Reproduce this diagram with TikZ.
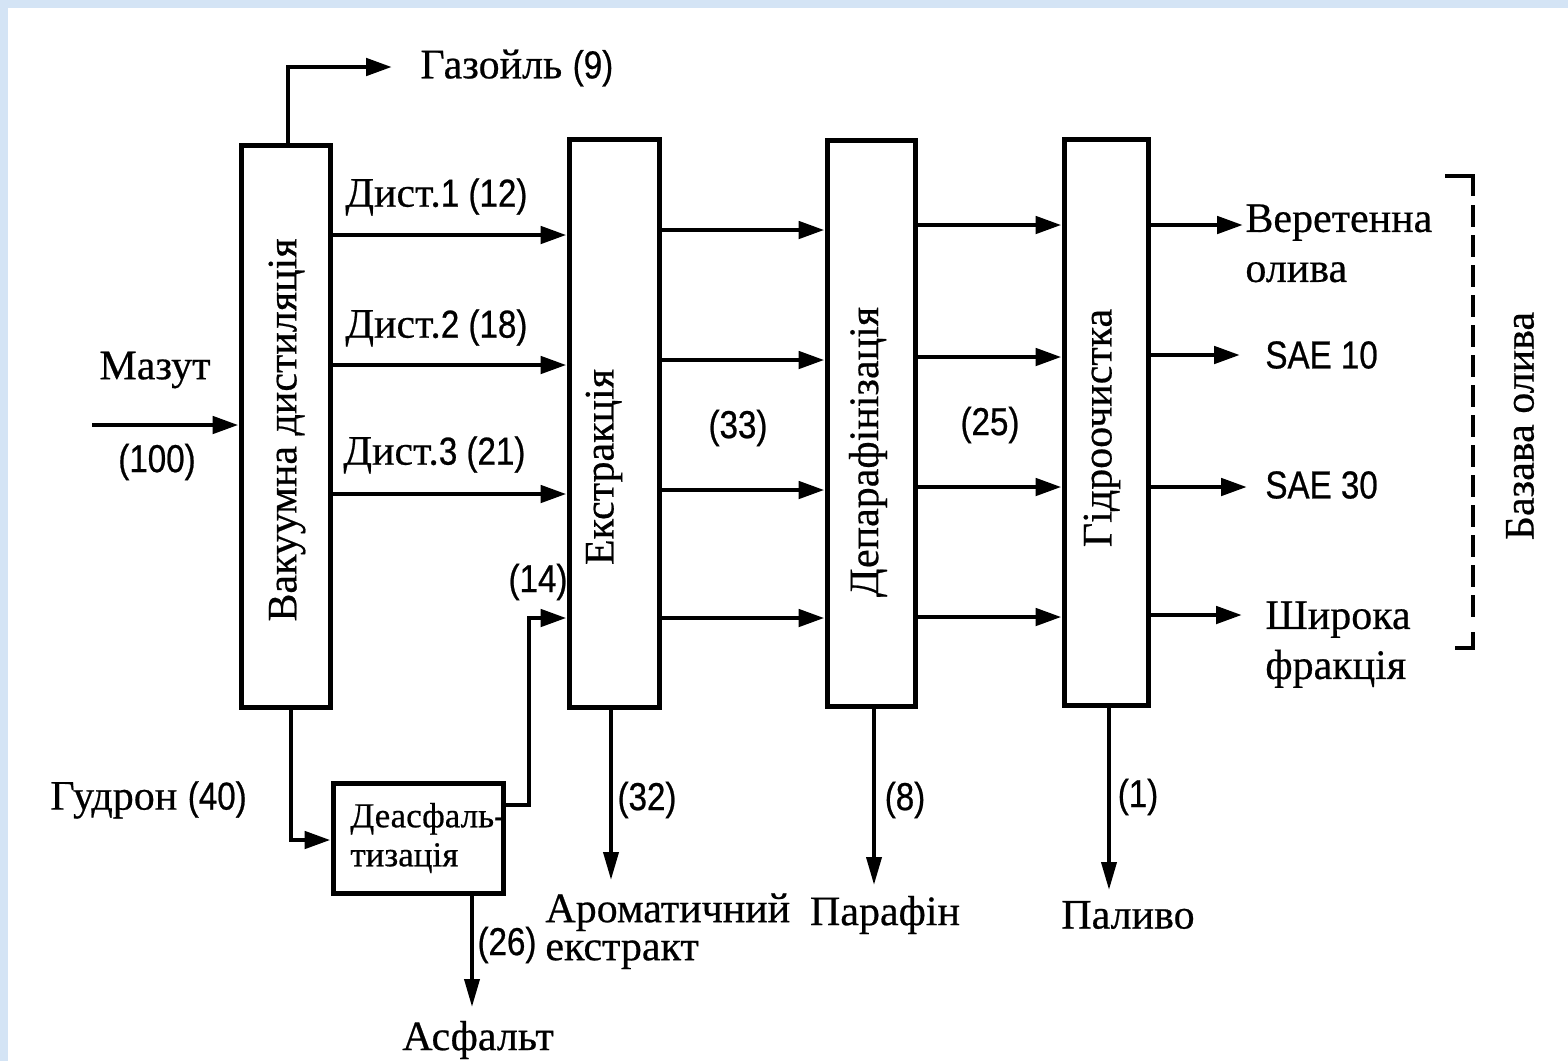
\documentclass[tikz,border=0pt]{standalone}
\usepackage{fontspec}
\setmainfont{Liberation Serif}[FakeBold=0.5]
\newfontfamily\numf[FakeStretch=0.85,FakeBold=0.6]{Liberation Sans}
\usetikzlibrary{arrows.meta}
\definecolor{frameblue}{RGB}{212,228,245}

\begin{document}
\begin{tikzpicture}[x=0.5pt,y=-0.5pt,
  unit/.style={draw, line width=2.5pt, inner sep=0pt},
  flow/.style={line width=2.4pt, -{Triangle[length=13pt,width=8.5pt]}},
  drop/.style={line width=1.9pt, -{Triangle[length=14pt,width=7.5pt]}},
  lbl/.style={font=\fontsize{21}{25}\selectfont, inner sep=0pt},
  num/.style={font=\numf\fontsize{19.5}{23}\selectfont, inner sep=0pt},
]
% page and frame
\fill[white] (0,0) rectangle (1568,1061);
\fill[frameblue] (0,0) rectangle (1568,8);
\fill[frameblue] (0,0) rectangle (8,1061);
\useasboundingbox (0,0) rectangle (1568,1061);

% process units
\node[unit, minimum width=44.5pt, minimum height=281pt] (V) at (285.5,426) {};
\node[unit, minimum width=45pt, minimum height=284pt] (E) at (614,423) {};
\node[unit, minimum width=44pt, minimum height=283pt] (D) at (871,423) {};
\node[unit, minimum width=42pt, minimum height=283pt] (H) at (1106,422) {};
\node[unit, minimum width=85pt, minimum height=55pt] (DA) at (418,838) {};

\node[lbl, rotate=90] (Vt) at (287,430) {Вакуумна дистиляція};
\node[lbl, rotate=90] (Et) at (604,467) {Екстракція};
\node[lbl, rotate=90] (Dt) at (868,452) {Депарафінізація};
\node[lbl, rotate=90] (Ht) at (1102,428) {Гідроочистка};
\node[lbl, font=\fontsize{17.5}{19.5}\selectfont, align=left, anchor=west] (DAt) at (350,838) {Деасфаль-\\тизація};

% feed
\coordinate (mzS) at (92,425);
\draw[flow] (mzS) -- (V.west |- mzS);
\node[lbl] (mz) at (155,370) {Мазут};
\node[num] (mzn) at (157,462) {(100)};

% gas oil
\coordinate (gasT) at (392,67);
\draw[flow] (V.north -| 288,0) |- (gasT);
\node[lbl, anchor=west] (gas) at (420,68) {Газойль {\numf\fontsize{19.5}{23}\selectfont (9)}};

% distillates
\draw[flow] (V.east |- 0,235) -- (E.west |- 0,235);
\draw[flow] (V.east |- 0,365) -- (E.west |- 0,365);
\draw[flow] (V.east |- 0,494) -- (E.west |- 0,494);
\node[lbl, anchor=west] (d1) at (345,197) {Дист.{\numf\fontsize{19.5}{23}\selectfont 1 (12)}};
\node[lbl, anchor=west] (d2) at (345,328) {Дист.{\numf\fontsize{19.5}{23}\selectfont 2 (18)}};
\node[lbl, anchor=west] (d3) at (343,455) {Дист.{\numf\fontsize{19.5}{23}\selectfont 3 (21)}};

% residue and deasphalting
\draw[flow] (V.south -| 291,0) |- (DA.west |- 0,840);
\node[lbl, anchor=west] (gd) at (50,800) {Гудрон {\numf\fontsize{19.5}{23}\selectfont (40)}};
\coordinate (c14) at (529,618);
\draw[flow] (DA.east |- 0,805) -| (c14) -- (E.west |- c14);
\node[num] (n14) at (538,582) {(14)};
\coordinate (asT) at (472,1007);
\draw[drop] (DA.south -| asT) -- (asT);
\node[num] (n26) at (507,945) {(26)};
\node[lbl] (asf) at (478,1040) {Асфальт};

% extraction to dewaxing
\draw[flow] (E.east |- 0,230) -- (D.west |- 0,230);
\draw[flow] (E.east |- 0,360) -- (D.west |- 0,360);
\draw[flow] (E.east |- 0,490) -- (D.west |- 0,490);
\draw[flow] (E.east |- 0,618) -- (D.west |- 0,618);
\node[num] (n33) at (738,428) {(33)};

% dewaxing to hydrotreating
\draw[flow] (D.east |- 0,225) -- (H.west |- 0,225);
\draw[flow] (D.east |- 0,357) -- (H.west |- 0,357);
\draw[flow] (D.east |- 0,487) -- (H.west |- 0,487);
\draw[flow] (D.east |- 0,617) -- (H.west |- 0,617);
\node[num] (n25) at (990,425) {(25)};

% side products
\coordinate (aroT) at (611,880);
\draw[drop] (E.south -| aroT) -- (aroT);
\node[num] (n32) at (647,800) {(32)};
\node[lbl, anchor=north west, align=left, font=\fontsize{21}{19}\selectfont] (aro) at (545,893) {Ароматичний\\екстракт};

\coordinate (parT) at (874,885);
\draw[drop] (D.south -| parT) -- (parT);
\node[num] (n8) at (905,800) {(8)};
\node[lbl] (par) at (885,915) {Парафін};

\coordinate (palT) at (1109,890);
\draw[drop] (H.south -| palT) -- (palT);
\node[num] (n1) at (1138,797) {(1)};
\node[lbl] (pal) at (1128,915) {Паливо};

% base oils
\coordinate (o1) at (1243,225);
\coordinate (o2) at (1240,355);
\coordinate (o3) at (1247,487);
\coordinate (o4) at (1242,615);
\draw[flow] (H.east |- o1) -- (o1);
\draw[flow] (H.east |- o2) -- (o2);
\draw[flow] (H.east |- o3) -- (o3);
\draw[flow] (H.east |- o4) -- (o4);
\node[lbl, anchor=north west, align=left, font=\fontsize{21}{25}\selectfont] (b1) at (1245,204) {Веретенна\\олива};
\node[num, anchor=west] (b2) at (1265,355) {SAE 10};
\node[num, anchor=west] (b3) at (1265,485) {SAE 30};
\node[lbl, anchor=north west, align=left] (b4) at (1265,601) {Широка\\фракція};

% bracket
\draw[line width=1.8pt] (1445,176) -- (1473,176) -- (1473,196);
\draw[line width=1.8pt, dash pattern=on 11pt off 4pt] (1473,205) -- (1473,624);
\draw[line width=1.8pt] (1473,632) -- (1473,648) -- (1455,648);
\node[lbl, rotate=90] (base) at (1520,426) {Базава олива};
\end{tikzpicture}
\end{document}
